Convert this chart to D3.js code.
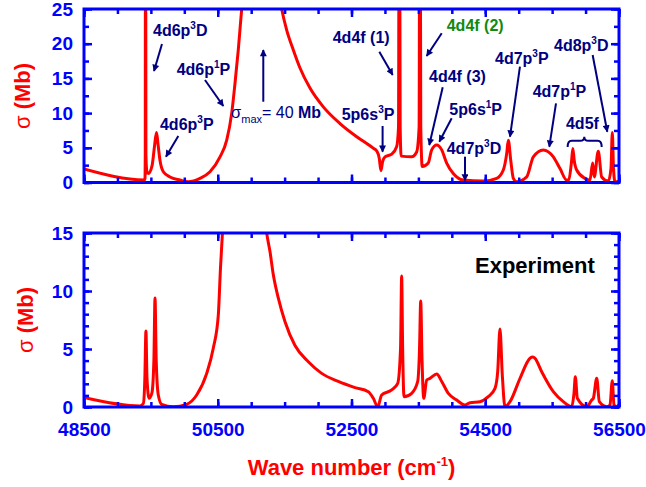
<!DOCTYPE html>
<html>
<head>
<meta charset="utf-8">
<script src="https://cdn.jsdelivr.net/npm/d3@7"></script>
<style>
  body { margin: 0; background: white; }
  text { font-family: "Liberation Sans", Arial, sans-serif; font-weight: bold; }
</style>
</head>
<body>
<div id="viz-container"></div>
<script>
let w = 646;
let h = 487;

// theory curve (top panel), wave number in cm-1 and cross section in Mb
let theoryWave = [48500, 49402, 49412, 49416, 49420, 49426, 49440, 49461, 49517, 49554, 49584, 49606, 49636, 49686, 49786, 49936, 50060, 50235, 50384, 50534, 50634, 50709, 50758, 50807, 50858, 50950, 51150, 51330, 51456, 51530, 51630, 51730, 51879, 52078, 52328, 52578, 52824, 52880, 52915, 52940, 52965, 53001, 53101, 53176, 53203, 53215, 53228, 53242, 53400, 53474, 53511, 53523, 53536, 53558, 53648, 53699, 53774, 53849, 53923, 54022, 54172, 54471, 54671, 54770, 54821, 54845, 54881, 54920, 54970, 55120, 55219, 55368, 55518, 55618, 55718, 55750, 55790, 55810, 55830, 55867, 55991, 56066, 56106, 56130, 56190, 56241, 56340, 56380, 56400, 56418, 56440, 56500];
let theorySigma = [1.95, 0.36, 0.6, 4, 60, 4, 1.6, 1.3, 2.4, 5.2, 7.2, 5.6, 3.2, 1.55, 0.8, 0.35, 0.1, 0.6, 1.55, 3.7, 6.1, 10, 14.3, 19.1, 25, 33, 40, 33, 25, 22, 19.1, 16.5, 13.6, 10.9, 8.5, 6.6, 4.95, 4.5, 3.5, 1.7, 3.0, 3.7, 4.1, 5.2, 8, 60, 8, 3.8, 3.7, 4.4, 8, 60, 8, 2.3, 2.8, 4.7, 5.4, 4.7, 2.8, 1.3, 0.35, 0.2, 0.6, 1.8, 4.2, 6.1, 3.2, 0.6, 0.1, 0.8, 3.7, 4.7, 3.7, 2.0, 0.35, 0.4, 3, 4.9, 3.2, 1.8, 0.6, 0.35, 2.8, 0.8, 4.5, 0.8, 0.2, 2, 7.2, 2, 0.1, 0.2];

// experiment (bottom panel)
let expWave = [48500, 49337, 49387, 49410, 49426, 49442, 49472, 49515, 49545, 49562, 49580, 49611, 49662, 49835, 50036, 50185, 50335, 50433, 50508, 50541, 50575, 50700, 50900, 51100, 51232, 51281, 51331, 51405, 51506, 51655, 51854, 52054, 52303, 52552, 52751, 52826, 52892, 52951, 53101, 53191, 53233, 53250, 53265, 53285, 53400, 53490, 53517, 53535, 53555, 53580, 53625, 53674, 53774, 53849, 53948, 54073, 54197, 54272, 54421, 54545, 54646, 54686, 54720, 54755, 54795, 54870, 55020, 55169, 55214, 55244, 55344, 55518, 55667, 55793, 55827, 55847, 55877, 56017, 56092, 56116, 56167, 56206, 56316, 56365, 56400, 56425, 56465, 56500];
let expSigma = [0.82, 0.09, 0.3, 2.5, 6.55, 2.5, 0.75, 1.2, 4, 9.4, 4, 1.03, 0.23, 0.03, 0.23, 1.03, 2.9, 5.06, 7.9, 12, 15.5, 25, 32, 24, 15, 13.4, 11.4, 9.4, 7.35, 5.3, 3.9, 2.9, 2.2, 1.67, 1.32, 0.75, 0.03, 1.03, 1.47, 2.04, 5, 11.3, 5, 0.89, 1.18, 2.2, 5, 9.14, 4, 0.75, 2.33, 2.47, 2.84, 2.2, 1.18, 0.6, 0.17, 0.37, 0.46, 0.89, 1.6, 3.04, 6.72, 2.76, 0.03, 0.46, 2.47, 4.2, 4.3, 4.2, 3.04, 1.32, 0.46, 0.03, 1.2, 2.6, 0.75, 0.03, 0.6, 0.75, 2.47, 0.46, 0.03, 0.17, 2.27, 0.17, 0.03, 0.23];

let xTickLabels = [48500, 50500, 52500, 54500, 56500];
let topYTicks = [0, 5, 10, 15, 20, 25];
let bottomYTicks = [0, 5, 10, 15];

// level labels: "^" marks the superscript digit
let levelLabels = ["4d6p^3D", "4d6p^1P", "4d6p^3P", "4d4f (1)", "5p6s^3P", "4d4f (2)", "4d4f (3)", "5p6s^1P", "4d7p^3D", "4d7p^3P", "4d7p^1P", "4d8p^3D", "4d5f"];

let blue = "#0000ff";
let red = "#ff0000";
let navy = "#000080";

let viz = d3.select("#viz-container")
  .append("svg")
    .attr("width", w)
    .attr("height", h)
    .style("background-color", "white");

let defs = viz.append("defs");
defs.append("marker")
    .attr("id", "arrow")
    .attr("viewBox", "0 0 10 10")
    .attr("refX", 9)
    .attr("refY", 5)
    .attr("markerWidth", 10)
    .attr("markerHeight", 7)
    .attr("markerUnits", "userSpaceOnUse")
    .attr("orient", "auto")
  .append("path")
    .attr("d", "M0,0 L10,5 L0,10 z")
    .attr("fill", navy);

let x = d3.scaleLinear().domain([48500, 56500]).range([84, 619]);
let yTop = d3.scaleLinear().domain([0, 25]).range([182.5, 9]);
let yBot = d3.scaleLinear().domain([0, 15]).range([407, 233]);

function drawPanel(y, yMajor, yMinorStep, yMax, wave, sigma, id, showXLabels){
  let g = viz.append("g");

  defs.append("clipPath").attr("id", id)
    .append("rect")
      .attr("x", x.range()[0])
      .attr("y", y.range()[1])
      .attr("width", x.range()[1] - x.range()[0])
      .attr("height", y.range()[0] - y.range()[1]);

  let pts = wave.map(function(d, i){ return [d, sigma[i]]; });
  let line = d3.line()
    .x(function(d){ return x(d[0]); })
    .y(function(d){ return y(d[1]); })
    .curve(d3.curveMonotoneX);

  g.append("path")
    .datum(pts)
    .attr("d", line)
    .attr("fill", "none")
    .attr("stroke", red)
    .attr("stroke-width", 3)
    .attr("stroke-linejoin", "round")
    .attr("clip-path", "url(#" + id + ")");

  let yB = y.range()[0], yT = y.range()[1];
  let xL = x.range()[0], xR = x.range()[1];

  // minor and major ticks, all pointing inwards
  let xMinor = d3.range(48500, 56501, 500);
  let yMinor = d3.range(0, yMax + 0.01, yMinorStep);

  function styleAxis(sel){
    sel.select(".domain").remove();
    sel.selectAll("line").attr("stroke", blue).attr("stroke-width", 2.5);
    sel.selectAll("text")
      .attr("fill", blue)
      .style("font-size", "19px")
      .style("font-family", "'Liberation Sans', Arial, sans-serif")
      .style("font-weight", "bold");
  }

  g.append("g").attr("transform", "translate(0," + yB + ")")
    .call(d3.axisBottom(x).tickValues(xMinor).tickSize(-5).tickFormat(""))
    .call(styleAxis);
  g.append("g").attr("transform", "translate(0," + yT + ")")
    .call(d3.axisTop(x).tickValues(xMinor).tickSize(-5).tickFormat(""))
    .call(styleAxis);
  g.append("g").attr("transform", "translate(0," + yB + ")")
    .call(d3.axisBottom(x).tickValues(xTickLabels).tickSize(-8).tickPadding(16)
      .tickFormat(showXLabels ? d3.format("d") : ""))
    .call(styleAxis);
  g.append("g").attr("transform", "translate(0," + yT + ")")
    .call(d3.axisTop(x).tickValues(xTickLabels).tickSize(-8).tickFormat(""))
    .call(styleAxis);

  g.append("g").attr("transform", "translate(" + xL + ",0)")
    .call(d3.axisLeft(y).tickValues(yMinor).tickSize(-5).tickFormat(""))
    .call(styleAxis);
  g.append("g").attr("transform", "translate(" + xR + ",0)")
    .call(d3.axisRight(y).tickValues(yMinor).tickSize(-5).tickFormat(""))
    .call(styleAxis);
  g.append("g").attr("transform", "translate(" + xL + ",0)")
    .call(d3.axisLeft(y).tickValues(yMajor).tickSize(-8).tickPadding(11).tickFormat(d3.format("d")))
    .call(styleAxis);
  g.append("g").attr("transform", "translate(" + xR + ",0)")
    .call(d3.axisRight(y).tickValues(yMajor).tickSize(-8).tickFormat(""))
    .call(styleAxis);

  g.append("rect")
    .attr("x", xL).attr("y", yT)
    .attr("width", xR - xL).attr("height", yB - yT)
    .attr("fill", "none")
    .attr("stroke", blue)
    .attr("stroke-width", 3);

  return g;
}

let topG = drawPanel(yTop, topYTicks, 2.5, 25, theoryWave, theorySigma, "clipTop", false);
let botG = drawPanel(yBot, bottomYTicks, 1, 15, expWave, expSigma, "clipBot", true);

// y axis titles
function yTitle(tx, ty){
  let t = viz.append("text")
    .attr("transform", "translate(" + tx + "," + ty + ") rotate(-90)")
    .attr("text-anchor", "middle")
    .attr("fill", red)
    .style("font-size", "22px");
  t.append("tspan").style("font-weight", "normal").text("σ");
  t.append("tspan").text(" (Mb)");
}
yTitle(30, 96);
yTitle(33, 320);

// x axis title
let xt = viz.append("text")
  .attr("x", (x.range()[0] + x.range()[1]) / 2)
  .attr("y", 475)
  .attr("text-anchor", "middle")
  .attr("fill", red)
  .style("font-size", "22px");
xt.append("tspan").text("Wave number (cm");
xt.append("tspan").attr("dy", -9).style("font-size", "13px").text("-1");
xt.append("tspan").attr("dy", 9).text(")");

// annotation placement in data units of the top panel: text anchor, arrow tail, arrow head
let annotPlace = [
  {tx: 49532, ty: 21.1, from: [49666, 19.96], to: [49547, 16.07]},
  {tx: 49886, ty: 15.42, from: [50309, 14.77], to: [50583, 11.02]},
  {tx: 49636, ty: 7.56, from: [49910, 6.7], to: [49726, 3.72]},
  {tx: 52219, ty: 20.06, from: [52916, 18.85], to: [53116, 15.49]},
  {tx: 52353, ty: 9.0, from: [52965, 8.14], to: [52965, 4.44]},
  {tx: 53924, ty: 21.87, from: [53849, 21.5], to: [53624, 18.23], color: "#108a10"},
  {tx: 53659, ty: 14.52, from: [53864, 13.72], to: [53663, 5.4]},
  {tx: 53963, ty: 9.73, from: [53998, 9.25], to: [53813, 5.88]},
  {tx: 53924, ty: 4.11, from: [54197, 3.72], to: [54197, 0.29]},
  {tx: 54646, ty: 17.07, from: [55019, 16.69], to: [54870, 6.6]},
  {tx: 55209, ty: 12.28, from: [55558, 11.41], to: [55458, 5.16]},
  {tx: 55528, ty: 18.99, from: [56106, 18.37], to: [56325, 7.32]},
  {tx: 55707, ty: 7.67}
];

levelLabels.forEach(function(lab, i){
  let p = annotPlace[i];
  let col = p.color || navy;
  let t = viz.append("text")
    .attr("x", x(p.tx))
    .attr("y", yTop(p.ty))
    .attr("fill", col)
    .style("font-size", "16px");
  let k = lab.indexOf("^");
  if (k < 0){
    t.text(lab);
  } else {
    t.append("tspan").text(lab.slice(0, k));
    t.append("tspan").attr("dy", -7).style("font-size", "10px").text(lab.charAt(k + 1));
    t.append("tspan").attr("dy", 7).text(lab.slice(k + 2));
  }
  if (p.from){
    viz.append("line")
      .attr("x1", x(p.from[0])).attr("y1", yTop(p.from[1]))
      .attr("x2", x(p.to[0])).attr("y2", yTop(p.to[1]))
      .attr("stroke", navy)
      .attr("stroke-width", 2)
      .attr("marker-end", "url(#arrow)");
  }
});

// brace over the 4d5f group
let bx0 = x(55732), bx1 = x(56241), bxm = x(55981);
let by0 = yTop(6.0), by1 = yTop(5.1), byc = yTop(6.6);
viz.append("path")
  .attr("d", "M" + bx0 + "," + by1 + " Q" + bx0 + "," + by0 + " " + (bx0 + 4) + "," + by0 +
    " L" + (bxm - 4) + "," + by0 + " Q" + bxm + "," + by0 + " " + bxm + "," + byc +
    " Q" + bxm + "," + by0 + " " + (bxm + 4) + "," + by0 +
    " L" + (bx1 - 4) + "," + by0 + " Q" + bx1 + "," + by0 + " " + bx1 + "," + by1)
  .attr("fill", "none")
  .attr("stroke", navy)
  .attr("stroke-width", 2);

// sigma max note with upward arrow
let sm = viz.append("text")
  .attr("x", x(50694))
  .attr("y", yTop(9.25))
  .attr("fill", navy)
  .style("font-size", "16px");
sm.append("tspan").style("font-weight", "normal").style("font-size", "17px").text("σ");
sm.append("tspan").attr("dy", 5).style("font-weight", "normal").style("font-size", "11px").text("max");
sm.append("tspan").attr("dy", -5).style("font-weight", "normal").text("= 40 ");
sm.append("tspan").text("Mb");
viz.append("line")
  .attr("x1", x(51181)).attr("y1", yTop(11.64))
  .attr("x2", x(51181)).attr("y2", yTop(19.09))
  .attr("stroke", navy)
  .attr("stroke-width", 2)
  .attr("marker-end", "url(#arrow)");

// experiment tag
viz.append("text")
  .attr("x", x(54347))
  .attr("y", yBot(11.53))
  .attr("fill", "black")
  .style("font-size", "22px")
  .text("Experiment");
</script>
</body>
</html>
